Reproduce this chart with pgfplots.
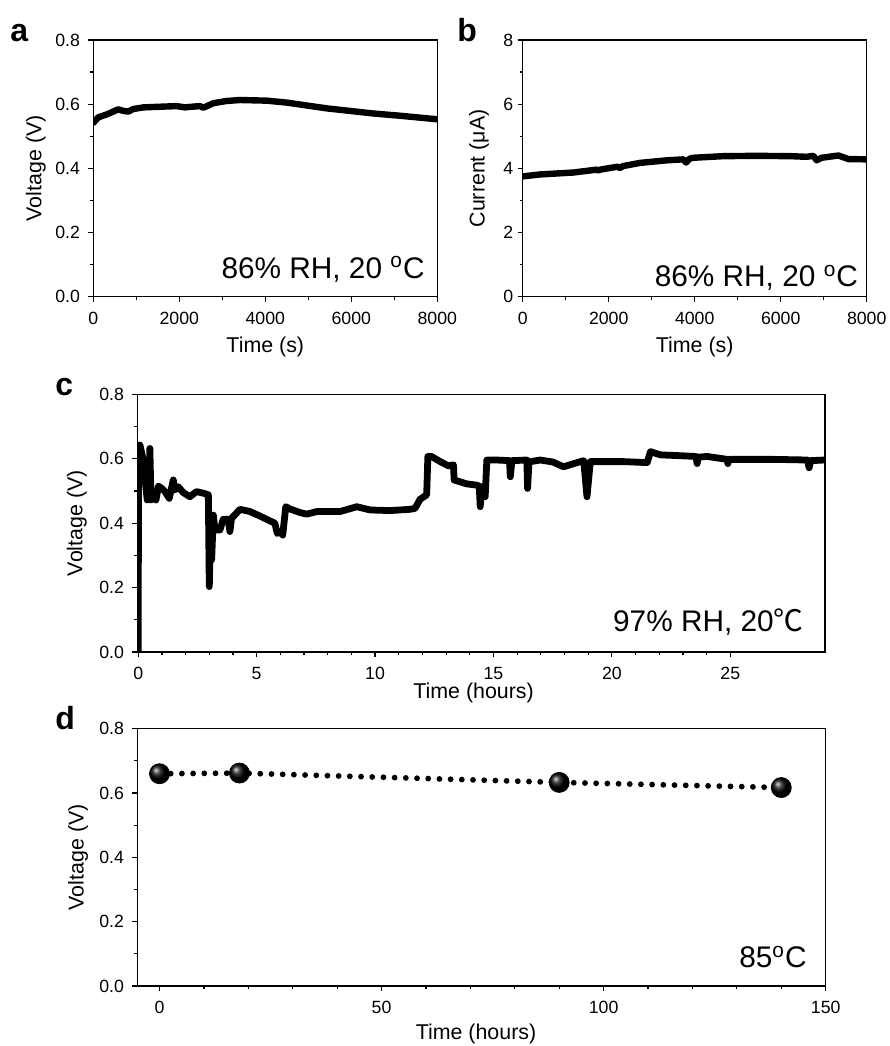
\documentclass[border=0pt]{standalone}
\usepackage{fontspec}
\setmainfont{Liberation Sans}
\newfontfamily\cjk{Noto Sans CJK SC}
\usepackage{pgfplots}
\pgfplotsset{compat=1.18}

\pgfplotsset{
  panel/.style={
    scale only axis,
    axis line style={line width=0.7pt},
    tick align=outside,
    xtick pos=bottom, ytick pos=left,
    major tick length=2.5pt, minor tick length=1.5pt,
    every tick/.append style={line width=0.6pt, black},
    /pgf/number format/assume math mode=true,
    /pgf/number format/1000 sep={},
    tick label style={font=\fontsize{8.85}{10}\selectfont},
    label style={font=\fontsize{10.7}{12}\selectfont},
    xticklabel style={anchor=north, inner sep=0pt, yshift=-5pt},
    yticklabel style={anchor=east, inner sep=0pt, xshift=-4pt},
    scaled ticks=false,
  },
  vfmt/.style={yticklabel style={/pgf/number format/.cd, fixed, fixed zerofill, precision=1}},
  dataline/.style={black, line width=3.2pt, line join=round, line cap=round, no marks},
}
\tikzset{
  annot/.style={anchor=base east, inner sep=0pt, font=\fontsize{14.9}{16}\selectfont},
  plabel/.style={anchor=base west, inner sep=0pt, font=\fontsize{16}{18}\selectfont\bfseries},
}

\begin{document}
\begin{tikzpicture}
\path[use as bounding box] (0,0) rectangle (445pt,523pt);

% ---------- panel a ----------
\begin{axis}[panel, vfmt,
  at={(46.65pt,374.65pt)}, anchor=south west,
  width=172pt, height=128.35pt,
  xmin=0, xmax=8000, ymin=0, ymax=0.8,
  xtick={0,2000,4000,6000,8000}, ytick={0,0.2,0.4,0.6,0.8},
  minor x tick num=1, minor y tick num=1,
  xlabel={Time (s)}, ylabel={Voltage (V)},
  xlabel style={at={(axis description cs:0.5,-0.2166)}, anchor=base, inner sep=0pt},
  ylabel style={at={(axis description cs:-0.1512,0.5)}, anchor=base, inner sep=0pt},
]
\addplot[dataline] coordinates {
(0,0.542) (116,0.559) (310,0.568) (465,0.577) (580,0.584) (700,0.579) (815,0.577)
(930,0.585) (1163,0.590) (1550,0.592) (1938,0.594) (2130,0.590) (2287,0.592)
(2480,0.594) (2560,0.589) (2790,0.603) (3100,0.610) (3411,0.613) (4031,0.611)
(4496,0.605) (4961,0.596) (5426,0.587) (5969,0.579) (6512,0.571) (7132,0.564)
(7597,0.558) (8000,0.553)};
\node[annot] at (axis description cs:0.9642,0.0728) {86\% RH, 20 \textsuperscript{o}C};
\end{axis}
\node[plabel] at (5pt,502pt) {a};

% ---------- panel b ----------
\begin{axis}[panel,
  at={(261.35pt,374.65pt)}, anchor=south west,
  width=172pt, height=128.35pt,
  xmin=0, xmax=8000, ymin=0, ymax=8,
  xtick={0,2000,4000,6000,8000}, ytick={0,2,4,6,8},
  minor x tick num=1, minor y tick num=1,
  yticklabel style={xshift=2pt},
  xlabel={Time (s)}, ylabel={Current (μA)},
  xlabel style={at={(axis description cs:0.5,-0.2166)}, anchor=base, inner sep=0pt},
  ylabel style={at={(axis description cs:-0.1105,0.5)}, anchor=base, inner sep=0pt},
]
\addplot[dataline] coordinates {
(0,3.75) (403,3.81) (1178,3.87) (1721,3.96) (1760,3.93) (1800,3.96) (2200,4.05)
(2264,4.01) (2330,4.07) (2729,4.17) (3349,4.25) (3736,4.28) (3800,4.18) (3880,4.30)
(3969,4.33) (4667,4.38) (5442,4.39) (6217,4.38) (6605,4.36) (6760,4.39) (6837,4.25)
(6953,4.33) (7341,4.40) (7574,4.29) (8000,4.28)};
\node[annot] at (axis description cs:0.9756,0.039) {86\% RH, 20 \textsuperscript{o}C};
\end{axis}
\node[plabel] at (228.5pt,502pt) {b};

% ---------- panel c ----------
\begin{axis}[panel, vfmt,
  at={(68.65pt,197pt)}, anchor=south west,
  width=343.85pt, height=128.85pt,
  xmin=-0.04, xmax=29, ymin=0, ymax=0.8,
  xtick={0,5,10,15,20,25}, ytick={0,0.2,0.4,0.6,0.8},
  minor x tick num=4, minor y tick num=1,
  xlabel={Time (hours)}, ylabel={Voltage (V)},
  xlabel style={at={(axis description cs:0.489,-0.1801)}, anchor=base, inner sep=0pt},
  ylabel style={at={(axis description cs:-0.0797,0.5)}, anchor=base, inner sep=0pt},
]
\addplot[dataline, line width=3.4pt] coordinates {
(0,0) (0.01,0.64) (0.07,0.643) (0.21,0.596) (0.32,0.513) (0.38,0.472) (0.45,0.48)
(0.49,0.632) (0.54,0.472) (0.63,0.493) (0.75,0.472) (0.85,0.515) (0.99,0.508)
(1.13,0.498) (1.31,0.477) (1.48,0.534) (1.55,0.503) (1.69,0.513) (1.90,0.495)
(2.18,0.482) (2.46,0.498) (2.75,0.493) (2.96,0.488) (3.00,0.203) (3.06,0.420)
(3.10,0.286) (3.17,0.425) (3.24,0.379) (3.45,0.379) (3.59,0.412) (3.80,0.412)
(3.87,0.374) (3.94,0.415) (4.30,0.443) (4.72,0.436) (5.14,0.422) (5.56,0.407)
(5.77,0.400) (5.87,0.368) (6.01,0.374) (6.10,0.363) (6.23,0.451) (6.41,0.444)
(6.83,0.433) (7.11,0.428) (7.54,0.436) (8.10,0.436) (8.52,0.436) (9.23,0.451)
(9.79,0.441) (10.63,0.439) (11.48,0.443) (11.69,0.446) (11.90,0.474) (12.18,0.488)
(12.23,0.607) (12.39,0.607) (12.75,0.591) (13.10,0.578) (13.31,0.581) (13.34,0.534)
(13.87,0.522) (14.29,0.518) (14.40,0.515) (14.44,0.451) (14.51,0.513) (14.65,0.482)
(14.72,0.596) (15.14,0.596) (15.68,0.594) (15.71,0.544) (15.78,0.594) (16.41,0.596)
(16.44,0.508) (16.50,0.590) (16.97,0.596) (17.5,0.590) (17.96,0.575) (18.4,0.585)
(18.81,0.594) (18.95,0.482) (19.09,0.591) (20.5,0.591) (21.49,0.588) (21.63,0.622)
(22.05,0.612) (23.0,0.609) (23.55,0.607) (23.6,0.585) (23.65,0.605) (24.03,0.607)
(24.87,0.598) (24.9,0.585) (24.95,0.598) (26.0,0.598) (26.83,0.598) (28.26,0.596)
(28.33,0.572) (28.4,0.594) (28.96,0.596)};
\node[annot] at (axis description cs:0.9695,0.0788) {97\% RH, 20{\cjk ℃}};
\end{axis}
\node[plabel] at (27.5pt,325pt) {c};

% ---------- panel d ----------
\begin{axis}[panel, vfmt,
  at={(68.65pt,30pt)}, anchor=south west,
  width=344.2pt, height=128.65pt,
  xmin=-5, xmax=150, ymin=0, ymax=0.8,
  xtick={0,50,100,150}, ytick={0,0.2,0.4,0.6,0.8},
  minor x tick num=4, minor y tick num=1,
  xlabel={Time (hours)}, ylabel={Voltage (V)},
  xlabel style={at={(axis description cs:0.492,-0.206)}, anchor=base, inner sep=0pt},
  ylabel style={at={(axis description cs:-0.0781,0.5)}, anchor=base, inner sep=0pt},
  clip=false,
]
\addplot[black, line width=2.9pt, line cap=round, dash pattern=on 0pt off 5.6pt, no marks]
  coordinates {(0,0.660) (18,0.662) (90,0.633) (140,0.617)};
\addplot[only marks, mark=ball, mark size=5pt, mark options={ball color=black}]
  coordinates {(0,0.660) (18,0.662) (90,0.633) (140,0.617)};
\node[annot] at (axis description cs:0.9728,0.07) {85\textsuperscript{o}C};
\end{axis}
\node[plabel] at (27.5pt,158pt) {d};
\end{tikzpicture}
\end{document}
